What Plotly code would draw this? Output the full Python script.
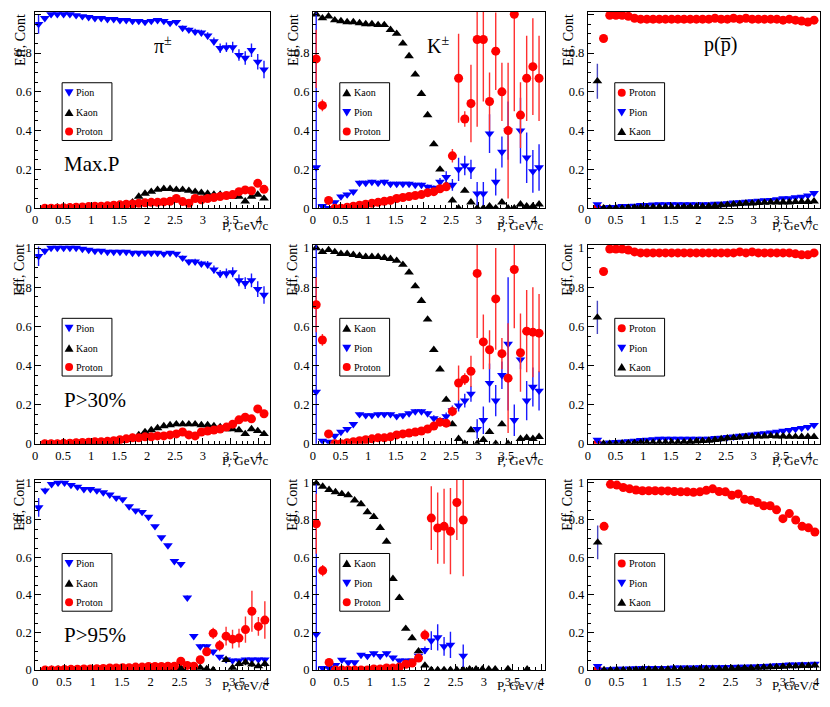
import plotly.graph_objects as go

# The page keeps the default 8px body margin; the shot of the page comes back
# squeezed a little in height, so screen y is mapped through S_Y.
W, H = 830, 707
OFF = 8
FIG_W, FIG_H = W - 2 * OFF, H - 2 * OFF
S_Y = 707 / 715

# momentum bin centres, GeV/c
P_BINS = [0.06, 0.172, 0.284, 0.396, 0.508, 0.62, 0.732, 0.844, 0.956, 1.068,
          1.18, 1.292, 1.404, 1.516, 1.628, 1.74, 1.852, 1.964, 2.076, 2.188,
          2.3, 2.412, 2.524, 2.636, 2.748, 2.86, 2.972, 3.084, 3.196, 3.308,
          3.42, 3.532, 3.644, 3.756, 3.868, 3.98, 4.092]

ROW_CUTS = ["Max.P", "P>30%", "P>95%"]
COL_TITLES = ["π<sup>±</sup>", "K<sup>±</sup>", "p(p\u0305)"]
COL_ORDER = [["Pion", "Kaon", "Proton"], ["Kaon", "Pion", "Proton"], ["Proton", "Pion", "Kaon"]]
X_MAX = [4.2, 4.2, 4.07]
Y_MAX = [1.012, 1.017, 1.014]

# ---------------- Max.P ----------------
MAXP_PI_PION = [0.95, 0.98, 1.0, 1.0, 1.0, 1.0, 0.995, 0.99, 0.985, 0.98, 0.98, 0.975, 0.975,
                0.97, 0.97, 0.965, 0.965, 0.96, 0.965, 0.97, 0.965, 0.955, 0.96, 0.93, 0.92,
                0.91, 0.905, 0.89, 0.86, 0.825, 0.83, 0.83, 0.79, 0.775, 0.815, 0.755, 0.715]
MAXP_PI_PION_ERR = [0.05, 0.01, 0.005, 0.005, 0.005, 0.005, 0.005, 0.005, 0.005, 0.005, 0.005,
                    0.005, 0.005, 0.005, 0.005, 0.005, 0.008, 0.008, 0.008, 0.008, 0.01, 0.01,
                    0.01, 0.012, 0.012, 0.015, 0.015, 0.018, 0.02, 0.025, 0.025, 0.028, 0.03,
                    0.035, 0.035, 0.04, 0.045]
MAXP_PI_KAON = [None, 0.0, 0.0, 0.005, 0.0, 0.005, 0.005, 0.005, 0.005, 0.01, 0.01, 0.01, 0.015,
                0.015, 0.02, 0.03, 0.06, 0.075, 0.085, 0.095, 0.1, 0.1, 0.095, 0.095, 0.09,
                0.085, 0.08, 0.075, 0.07, 0.07, 0.065, 0.06, 0.06, 0.035, 0.06, 0.07, 0.05]
MAXP_PI_PROTON = [None, 0.0, 0.0, 0.0, 0.002, 0.003, 0.005, 0.006, 0.008, 0.01, 0.01, 0.012,
                  0.015, 0.017, 0.02, 0.022, 0.025, 0.028, 0.03, 0.03, 0.032, 0.035, 0.05,
                  0.034, 0.025, 0.05, 0.043, 0.05, 0.055, 0.06, 0.065, 0.07, 0.085, 0.094,
                  0.09, 0.128, 0.097]

MAXP_K_KAON = [1.0, 0.98, 0.99, 0.97, 0.965, 0.96, 0.96, 0.955, 0.95, 0.95, 0.945, 0.945, 0.92,
               0.9, 0.85, 0.785, 0.69, 0.59, 0.48, 0.33, 0.2, 0.12, 0.04, 0.0, 0.09, 0.03, 0.0,
               0.0, 0.01, 0.0, 0.03, 0.0, 0.0, 0.02, 0.01, 0.01, 0.02]
MAXP_K_PION = [0.21, 0.01, 0.0, 0.03, 0.06, 0.07, 0.085, 0.13, 0.13, 0.135, 0.13, 0.135, 0.125,
               0.125, 0.125, 0.125, 0.12, 0.12, 0.11, 0.105, 0.135, 0.16, 0.12, 0.2, 0.22, 0.2,
               0.075, 0.075, 0.385, 0.135, 0.29, 0.4, None, 0.4, 0.26, 0.19, 0.21]
MAXP_K_PION_ERR = [0.8, 0.005, 0.005, 0.008, 0.01, 0.01, 0.01, 0.012, 0.012, 0.012, 0.012,
                   0.012, 0.012, 0.012, 0.012, 0.012, 0.012, 0.012, 0.012, 0.012, 0.02, 0.03,
                   0.03, 0.06, 0.05, 0.05, 0.06, 0.06, 0.1, 0.07, 0.08, 0.15, 0.0, 0.17, 0.13,
                   0.11, 0.12]
MAXP_K_PROTON = [0.77, 0.53, 0.04, 0.0, 0.0, 0.005, 0.01, 0.015, 0.02, 0.025, 0.03, 0.035, 0.04,
                 0.05, 0.055, 0.06, 0.065, 0.07, 0.08, 0.085, 0.1, 0.11, 0.27, 0.67, 0.46, 0.54,
                 0.87, 0.87, 0.55, 0.81, 0.6, 0.4, 1.0, 0.48, 0.67, 0.73, 0.67]
MAXP_K_PROTON_ERR = [0.15, 0.03, 0.01, 0.0, 0.0, 0.002, 0.003, 0.003, 0.004, 0.004, 0.005,
                     0.005, 0.005, 0.006, 0.006, 0.007, 0.007, 0.008, 0.008, 0.009, 0.01, 0.012,
                     0.035, 0.23, 0.04, 0.2, 0.45, 0.32, 0.15, 0.2, 0.15, 0.35, 0.5, 0.17, 0.22,
                     0.25, 0.22]

MAXP_P_PROTON = [None, 0.0, 0.875, 0.995, 0.995, 0.995, 0.99, 0.98, 0.975, 0.975, 0.975, 0.975,
                 0.975, 0.975, 0.975, 0.975, 0.975, 0.975, 0.975, 0.975, 0.98, 0.975, 0.975,
                 0.98, 0.975, 0.98, 0.975, 0.975, 0.975, 0.975, 0.975, 0.97, 0.975, 0.97, 0.965,
                 0.96, 0.97]
MAXP_P_PION = [None, 0.02, 0.0, 0.005, 0.005, 0.01, 0.01, 0.012, 0.015, 0.015, 0.018, 0.02,
               0.02, 0.02, 0.02, 0.02, 0.02, 0.02, 0.02, 0.02, 0.022, 0.022, 0.025, 0.028, 0.03,
               0.032, 0.035, 0.038, 0.04, 0.042, 0.045, 0.05, 0.05, 0.055, 0.058, 0.065, 0.077]
MAXP_P_KAON = [None, 0.655, 0.0, 0.0, 0.0, 0.0, 0.002, 0.002, 0.003, 0.003, 0.004, 0.005, 0.005,
               0.005, 0.005, 0.006, 0.006, 0.007, 0.008, 0.01, 0.012, 0.015, 0.018, 0.02, 0.022,
               0.025, 0.025, 0.027, 0.028, 0.03, 0.03, 0.03, 0.03, 0.032, 0.033, 0.033, 0.035]
MAXP_P_KAON_ERR = [0.0, 0.09, 0.0, 0.0, 0.0, 0.0, 0.0, 0.0, 0.0, 0.0, 0.0, 0.0, 0.0, 0.0, 0.0,
                   0.0, 0.0, 0.0, 0.0, 0.0, 0.0, 0.0, 0.0, 0.0, 0.0, 0.0, 0.0, 0.0, 0.0, 0.0,
                   0.0, 0.0, 0.0, 0.0, 0.0, 0.0, 0.0]

# ---------------- P>30% ----------------
P30_PI_PION = [0.958, 0.985, 1.0, 1.0, 1.0, 1.0, 1.0, 0.995, 0.99, 0.985, 0.985, 0.98, 0.98,
               0.98, 0.98, 0.975, 0.975, 0.975, 0.975, 0.975, 0.97, 0.975, 0.97, 0.95, 0.93,
               0.93, 0.92, 0.915, 0.89, 0.868, 0.87, 0.876, 0.834, 0.82, 0.835, 0.79, 0.76]
P30_PI_PION_ERR = [0.05, 0.012, 0.005, 0.005, 0.005, 0.005, 0.005, 0.005, 0.005, 0.005, 0.005,
                   0.005, 0.005, 0.005, 0.005, 0.005, 0.008, 0.008, 0.008, 0.008, 0.01, 0.01,
                   0.01, 0.012, 0.012, 0.015, 0.015, 0.018, 0.02, 0.02, 0.025, 0.025, 0.03,
                   0.03, 0.035, 0.04, 0.045]
P30_PI_KAON = [None, 0.0, 0.0, 0.0, 0.0, 0.0, 0.005, 0.005, 0.005, 0.005, 0.005, 0.01, 0.01,
               0.015, 0.02, 0.03, 0.045, 0.06, 0.07, 0.08, 0.09, 0.095, 0.1, 0.1, 0.1, 0.1,
               0.095, 0.095, 0.09, 0.085, 0.075, 0.075, 0.07, 0.05, 0.075, 0.065, 0.05]
P30_PI_PROTON = [None, 0.0, 0.0, 0.0, 0.002, 0.003, 0.005, 0.006, 0.008, 0.01, 0.01, 0.012,
                 0.015, 0.02, 0.025, 0.03, 0.03, 0.035, 0.035, 0.04, 0.04, 0.045, 0.05, 0.06,
                 0.045, 0.04, 0.06, 0.065, 0.07, 0.075, 0.085, 0.1, 0.122, 0.135, 0.127, 0.178,
                 0.153]

P30_K_KAON = [1.0, 0.98, 0.99, 0.98, 0.97, 0.97, 0.965, 0.96, 0.955, 0.955, 0.955, 0.95, 0.945,
              0.935, 0.915, 0.875, 0.805, 0.73, 0.635, 0.48, 0.38, 0.225, 0.1, 0.025, 0.0, 0.07,
              0.0, 0.02, 0.06, 0.0, 0.1, 0.0, None, 0.025, 0.03, 0.025, 0.035]
P30_K_PION = [0.265, 0.015, 0.01, 0.04, 0.06, 0.075, 0.1, 0.15, 0.145, 0.145, 0.15, 0.15, 0.15,
              0.14, 0.145, 0.155, 0.165, 0.165, 0.155, 0.13, 0.12, 0.14, 0.17, 0.195, 0.22,
              0.255, 0.075, 0.12, 0.31, 0.22, 0.35, 0.51, 0.12, 0.43, 0.22, 0.29, 0.27]
P30_K_PION_ERR = [0.75, 0.005, 0.005, 0.008, 0.01, 0.01, 0.01, 0.01, 0.01, 0.01, 0.01, 0.01,
                  0.01, 0.01, 0.01, 0.01, 0.012, 0.012, 0.012, 0.015, 0.015, 0.02, 0.025, 0.03,
                  0.035, 0.04, 0.05, 0.07, 0.1, 0.08, 0.07, 0.34, 0.08, 0.05, 0.1, 0.1, 0.1]
P30_K_PROTON = [0.71, 0.53, 0.05, 0.0, 0.0, 0.005, 0.01, 0.015, 0.02, 0.025, 0.03, 0.03, 0.035,
                0.045, 0.05, 0.055, 0.06, 0.065, 0.075, 0.09, 0.11, 0.105, 0.165, 0.31, 0.33,
                0.37, 0.87, 0.52, 0.48, 0.74, 0.46, 0.335, 0.89, 0.465, 0.575, 0.57, 0.565]
P30_K_PROTON_ERR = [0.14, 0.03, 0.01, 0.0, 0.0, 0.002, 0.003, 0.003, 0.004, 0.004, 0.005, 0.005,
                    0.005, 0.006, 0.006, 0.007, 0.007, 0.008, 0.008, 0.009, 0.01, 0.012, 0.025,
                    0.09, 0.03, 0.08, 0.33, 0.14, 0.1, 0.26, 0.08, 0.28, 0.3, 0.2, 0.21, 0.23,
                    0.2]

P30_P_PROTON = [None, 0.0, 0.88, 0.995, 0.995, 0.995, 0.99, 0.98, 0.975, 0.975, 0.975, 0.975,
                0.975, 0.975, 0.975, 0.975, 0.975, 0.975, 0.975, 0.975, 0.975, 0.975, 0.975,
                0.975, 0.98, 0.975, 0.98, 0.975, 0.975, 0.975, 0.975, 0.975, 0.975, 0.97, 0.965,
                0.965, 0.975]
P30_P_PION = [None, 0.02, 0.0, 0.005, 0.008, 0.01, 0.012, 0.015, 0.018, 0.02, 0.022, 0.025,
              0.025, 0.025, 0.025, 0.025, 0.025, 0.025, 0.025, 0.025, 0.028, 0.03, 0.033, 0.036,
              0.04, 0.043, 0.046, 0.05, 0.053, 0.056, 0.06, 0.065, 0.07, 0.075, 0.08, 0.085,
              0.095]
P30_P_KAON = [None, 0.645, 0.0, 0.0, 0.0, 0.002, 0.003, 0.004, 0.005, 0.005, 0.005, 0.005,
              0.006, 0.006, 0.007, 0.008, 0.01, 0.012, 0.014, 0.016, 0.02, 0.024, 0.028, 0.03,
              0.033, 0.035, 0.037, 0.038, 0.038, 0.04, 0.038, 0.038, 0.036, 0.036, 0.035, 0.035,
              0.035]
P30_P_KAON_ERR = [0.0, 0.085, 0.0, 0.0, 0.0, 0.0, 0.0, 0.0, 0.0, 0.0, 0.0, 0.0, 0.0, 0.0, 0.0,
                  0.0, 0.0, 0.0, 0.0, 0.0, 0.0, 0.0, 0.0, 0.0, 0.0, 0.0, 0.0, 0.0, 0.0, 0.0,
                  0.0, 0.0, 0.0, 0.0, 0.0, 0.0, 0.0]

# ---------------- P>95% ----------------
P95_PI_PION = [0.867, 0.957, 0.991, 0.998, 0.998, 0.986, 0.977, 0.964, 0.964, 0.957, 0.947,
               0.935, 0.918, 0.91, 0.872, 0.85, 0.842, 0.816, 0.766, 0.707, 0.664, 0.58, 0.565,
               0.385, 0.18, 0.125, 0.125, 0.097, 0.07, 0.055, 0.05, 0.05, 0.055, 0.055, 0.055,
               0.055]
P95_PI_PION_ERR = [0.05, 0.015, 0.005, 0.005, 0.005, 0.005, 0.005, 0.005, 0.005, 0.005, 0.005,
                   0.005, 0.005, 0.006, 0.006, 0.006, 0.007, 0.007, 0.008, 0.008, 0.009, 0.01,
                   0.01, 0.012, 0.012, 0.012, 0.012, 0.01, 0.01, 0.01, 0.01, 0.01, 0.01, 0.01,
                   0.01, 0.01]
P95_PI_KAON = [None, 0.0, 0.002, 0.003, 0.002, 0.005, 0.002, 0.002, 0.003, 0.003, 0.004, 0.003,
               0.003, 0.004, 0.004, 0.004, 0.005, 0.005, 0.005, 0.006, 0.006, 0.008, 0.01, 0.024,
               0.02, 0.012, 0.005, 0.0, None, 0.054, 0.012, 0.032, 0.04, 0.029, 0.02, 0.032]
P95_PI_KAON_ERR = [0.0, 0.0, 0.0, 0.0, 0.0, 0.0, 0.0, 0.0, 0.0, 0.0, 0.0, 0.0, 0.0, 0.0, 0.0,
                   0.0, 0.0, 0.0, 0.0, 0.0, 0.0, 0.0, 0.0, 0.008, 0.008, 0.0, 0.0, 0.0, 0.0,
                   0.015, 0.008, 0.012, 0.015, 0.012, 0.01, 0.015]
P95_PI_PROTON = [None, 0.0, 0.0, 0.0, 0.002, 0.003, 0.004, 0.005, 0.005, 0.006, 0.008, 0.01,
                 0.01, 0.012, 0.012, 0.015, 0.015, 0.018, 0.018, 0.018, 0.02, 0.02, 0.046,
                 0.024, 0.02, 0.054, 0.097, 0.195, 0.13, 0.18, 0.164, 0.17, 0.215, 0.313, 0.232,
                 0.266]
P95_PI_PROTON_ERR = [0.0, 0.0, 0.0, 0.0, 0.0, 0.0, 0.0, 0.0, 0.0, 0.0, 0.0, 0.0, 0.0, 0.0, 0.0,
                     0.0, 0.0, 0.0, 0.0, 0.0, 0.0, 0.0, 0.01, 0.006, 0.006, 0.01, 0.015, 0.03,
                     0.03, 0.05, 0.05, 0.05, 0.07, 0.11, 0.05, 0.1]

P95_K_KAON = [0.995, 0.978, 0.961, 0.949, 0.939, 0.932, 0.905, 0.885, 0.842, 0.817, 0.758,
              0.685, 0.486, 0.385, 0.22, 0.17, 0.1, 0.024, 0.0, 0.0, 0.0, 0.0, 0.0, 0.002,
              0.004, 0.004, 0.003, 0.003, 0.004, None, 0.005, None, None, 0.003, None, None]
P95_K_PION = [0.19, 0.01, 0.01, 0.025, 0.054, 0.04, 0.04, 0.08, 0.074, 0.088, 0.074, 0.088,
              0.066, 0.05, 0.05, 0.05, 0.075, 0.105, 0.156, 0.173, 0.125, 0.134, None, 0.075,
              None, None, None, None, None, None, None, None, None, None, None, None]
P95_K_PION_ERR = [0.8, 0.005, 0.005, 0.008, 0.01, 0.008, 0.008, 0.01, 0.01, 0.01, 0.01, 0.01,
                  0.01, 0.01, 0.01, 0.01, 0.012, 0.02, 0.05, 0.07, 0.05, 0.07, 0.0, 0.06, 0.0,
                  0.0, 0.0, 0.0, 0.0, 0.0, 0.0, 0.0, 0.0, 0.0, 0.0, 0.0]
P95_K_PROTON = [0.78, 0.53, 0.04, 0.0, 0.0, 0.0, 0.0, 0.0, 0.0, 0.005, 0.005, 0.01, 0.01, 0.015,
                0.03, 0.037, 0.063, 0.186, 0.81, 0.757, 0.766, 0.74, 0.893, 0.8, None, None,
                None, None, None, None, None, None, None, None, None, None]
P95_K_PROTON_ERR = [0.16, 0.03, 0.01, 0.0, 0.0, 0.0, 0.0, 0.0, 0.0, 0.0, 0.0, 0.0, 0.0, 0.0,
                    0.005, 0.006, 0.01, 0.03, 0.17, 0.19, 0.2, 0.23, 0.2, 0.3, 0.0, 0.0, 0.0,
                    0.0, 0.0, 0.0, 0.0, 0.0, 0.0, 0.0, 0.0, 0.0]

P95_P_PROTON = [None, 0.0, 0.766, 0.99, 0.986, 0.973, 0.966, 0.96, 0.956, 0.956, 0.956, 0.955,
                0.955, 0.952, 0.95, 0.95, 0.948, 0.95, 0.958, 0.966, 0.952, 0.95, 0.932, 0.939,
                0.91, 0.905, 0.893, 0.876, 0.876, 0.854, 0.807, 0.834, 0.8, 0.766, 0.758, 0.736]
P95_P_PION = [None, 0.02, 0.0, 0.003, 0.005, 0.006, 0.007, 0.008, 0.009, 0.01, 0.01, 0.01, 0.01,
              0.012, 0.012, 0.012, 0.012, 0.013, 0.013, 0.014, 0.014, 0.015, 0.015, 0.016,
              0.016, 0.017, 0.018, 0.02, 0.022, 0.024, 0.026, 0.028, 0.028, 0.03, 0.03, 0.032]
P95_P_KAON = [None, 0.68, 0.0, 0.0, 0.0, 0.0, 0.0, 0.001, 0.002, 0.002, 0.003, 0.003, 0.004,
              0.004, 0.004, 0.005, 0.005, 0.005, 0.006, 0.006, 0.006, 0.007, 0.008, 0.009, 0.01,
              0.01, 0.012, 0.014, 0.015, 0.016, 0.018, 0.02, 0.02, 0.022, 0.022, 0.024]
P95_P_KAON_ERR = [0.0, 0.09, 0.0, 0.0, 0.0, 0.0, 0.0, 0.0, 0.0, 0.0, 0.0, 0.0, 0.0, 0.0, 0.0,
                  0.0, 0.0, 0.0, 0.0, 0.0, 0.0, 0.0, 0.0, 0.0, 0.0, 0.0, 0.0, 0.0, 0.0, 0.0,
                  0.0, 0.0, 0.0, 0.0, 0.0, 0.0]

# panel table (row-major), series -> (values, errors)
panels = [
    {"Pion": (MAXP_PI_PION, MAXP_PI_PION_ERR), "Kaon": (MAXP_PI_KAON, None), "Proton": (MAXP_PI_PROTON, None)},
    {"Kaon": (MAXP_K_KAON, None), "Pion": (MAXP_K_PION, MAXP_K_PION_ERR), "Proton": (MAXP_K_PROTON, MAXP_K_PROTON_ERR)},
    {"Proton": (MAXP_P_PROTON, None), "Pion": (MAXP_P_PION, None), "Kaon": (MAXP_P_KAON, MAXP_P_KAON_ERR)},
    {"Pion": (P30_PI_PION, P30_PI_PION_ERR), "Kaon": (P30_PI_KAON, None), "Proton": (P30_PI_PROTON, None)},
    {"Kaon": (P30_K_KAON, None), "Pion": (P30_K_PION, P30_K_PION_ERR), "Proton": (P30_K_PROTON, P30_K_PROTON_ERR)},
    {"Proton": (P30_P_PROTON, None), "Pion": (P30_P_PION, None), "Kaon": (P30_P_KAON, P30_P_KAON_ERR)},
    {"Pion": (P95_PI_PION, P95_PI_PION_ERR), "Kaon": (P95_PI_KAON, P95_PI_KAON_ERR), "Proton": (P95_PI_PROTON, P95_PI_PROTON_ERR)},
    {"Kaon": (P95_K_KAON, None), "Pion": (P95_K_PION, P95_K_PION_ERR), "Proton": (P95_K_PROTON, P95_K_PROTON_ERR)},
    {"Proton": (P95_P_PROTON, None), "Pion": (P95_P_PION, None), "Kaon": (P95_P_KAON, P95_P_KAON_ERR)},
]

STYLE = {
    "Pion": ("triangle-down", "#0000ff"),
    "Kaon": ("triangle-up", "#000000"),
    "Proton": ("circle", "#ff0000"),
}
ERR_COLOR = {"Pion": "#1a1aff", "Kaon": "#000000", "Proton": "#ff3030"}

# frame placement in screen pixels; nominal frame tops for inner positions
FRAME_X = [(32.3, 268.0), (311.0, 544.0), (587.0, 820.0)]
FRAME_Y = [(5.0, 205.0), (241.7, 441.7), (478.0, 669.0)]
NOMINAL_TOP = [5.0, 241.7, 478.0]
Y_MAX[2] = round((669.0 - 478.0) / (669.0 - 480.7), 3)

SERIF = "Liberation Serif, Times New Roman, DejaVu Serif, serif"


def fx(px):
    return (px - OFF) / FIG_W


def fy(py):
    return 1 - (py / S_Y - OFF) / FIG_H


fig = go.Figure()
annotations = []
shapes = []

for n, pan in enumerate(panels):
    r, c = divmod(n, 3)
    sfx = "" if n == 0 else str(n + 1)
    x0, x1 = FRAME_X[c]
    y0, y1 = FRAME_Y[r]
    ytop = NOMINAL_TOP[r]

    for name in COL_ORDER[c]:
        vals, err = pan[name]
        sym, col = STYLE[name]
        ecol = ERR_COLOR[name]
        if c == 2 and name == "Kaon":
            ecol = "#4848c0"
        tr = go.Scatter(
            x=P_BINS[:len(vals)], y=vals, mode="markers",
            marker=dict(symbol=sym, color=col, size=9 if sym == "circle" else 8.5,
                        line=dict(width=0)),
            xaxis="x" + sfx, yaxis="y" + sfx, showlegend=False, name=name,
        )
        if err is not None:
            tr.error_y = dict(type="data", array=err, visible=True, width=0,
                              thickness=1.4, color=ecol)
        fig.add_trace(tr)

    fig.update_layout(**{
        "xaxis" + sfx: dict(
            domain=[fx(x0), fx(x1)], anchor="y" + sfx, range=[0, X_MAX[r]],
            tick0=0, dtick=0.5, ticks="inside", ticklen=6, tickwidth=1, tickcolor="black",
            minor=dict(dtick=0.1, ticks="inside", ticklen=3, tickcolor="black"),
            showline=True, mirror=True, linecolor="black", linewidth=1,
            showgrid=False, zeroline=False,
            tickfont=dict(family=SERIF, size=12.5, color="black"),
        ),
        "yaxis" + sfx: dict(
            domain=[fy(y1), min(1.0, fy(y0))], anchor="x" + sfx, range=[0, Y_MAX[r]],
            tick0=0, dtick=0.2, ticks="inside", ticklen=6, tickwidth=1, tickcolor="black",
            minor=dict(dtick=0.05, ticks="inside", ticklen=3, tickcolor="black"),
            showline=True, mirror=True, linecolor="black", linewidth=1,
            showgrid=False, zeroline=False,
            tickfont=dict(family=SERIF, size=12.5, color="black"),
        ),
    })

    # axis titles
    annotations.append(dict(
        x=fx(max(x0 - 20, 17.0)), y=min(1.0, fy(ytop - 3)), xref="paper", yref="paper",
        text="Eff, Cont", textangle=-90, showarrow=False, xanchor="center", yanchor="top",
        font=dict(family=SERIF, size=14, color="black")))
    annotations.append(dict(
        x=fx(x1), y=max(6.5 / FIG_H, fy(y1 + 17)), xref="paper", yref="paper", text="P, GeV/c",
        showarrow=False, xanchor="right", yanchor="middle",
        font=dict(family=SERIF, size=13, color="black")))

    if r == 0:
        annotations.append(dict(
            x=fx(x0 + [128, 126, 133][c]), y=fy(ytop + 36), xref="paper", yref="paper",
            text=COL_TITLES[c], showarrow=False, xanchor="center", yanchor="middle",
            font=dict(family=SERIF, size=20, color="black")))
    if c == 0:
        annotations.append(dict(
            x=fx(x0 + 27), y=fy(ytop + 156), xref="paper", yref="paper",
            text=ROW_CUTS[r], showarrow=False, xanchor="left", yanchor="middle",
            font=dict(family=SERIF, size=21, color="black")))

    # legend box
    lx, ly = x0 + 27, ytop + 74
    shapes.append(dict(type="rect", xref="paper", yref="paper",
                       x0=fx(lx), x1=fx(lx + 50), y0=fy(ly + 58), y1=fy(ly),
                       line=dict(color="black", width=1), fillcolor="white", layer="above"))
    for i, name in enumerate(COL_ORDER[c]):
        cy = ly + [10, 30, 49][i]
        cx = lx + 7
        sym, col = STYLE[name]
        if sym == "circle":
            shapes.append(dict(type="circle", xref="paper", yref="paper",
                               x0=fx(cx - 4), x1=fx(cx + 4), y0=fy(cy + 4), y1=fy(cy - 4),
                               fillcolor=col, line=dict(width=0), layer="above"))
        else:
            d = -1 if sym == "triangle-down" else 1
            path = "M {} {} L {} {} L {} {} Z".format(
                fx(cx - 4.5), fy(cy + 3.5 * d), fx(cx + 4.5), fy(cy + 3.5 * d),
                fx(cx), fy(cy - 4 * d))
            shapes.append(dict(type="path", xref="paper", yref="paper", path=path,
                               fillcolor=col, line=dict(width=0), layer="above"))
        annotations.append(dict(
            x=fx(lx + 12), y=fy(cy), xref="paper", yref="paper", text=name,
            showarrow=False, xanchor="left", yanchor="middle",
            font=dict(family=SERIF, size=10, color="black")))

fig.update_layout(
    width=FIG_W, height=FIG_H,
    margin=dict(l=0, r=0, t=0, b=0),
    paper_bgcolor="white", plot_bgcolor="white",
    annotations=annotations, shapes=shapes,
    showlegend=False,
)

fig.write_html("out.html")
